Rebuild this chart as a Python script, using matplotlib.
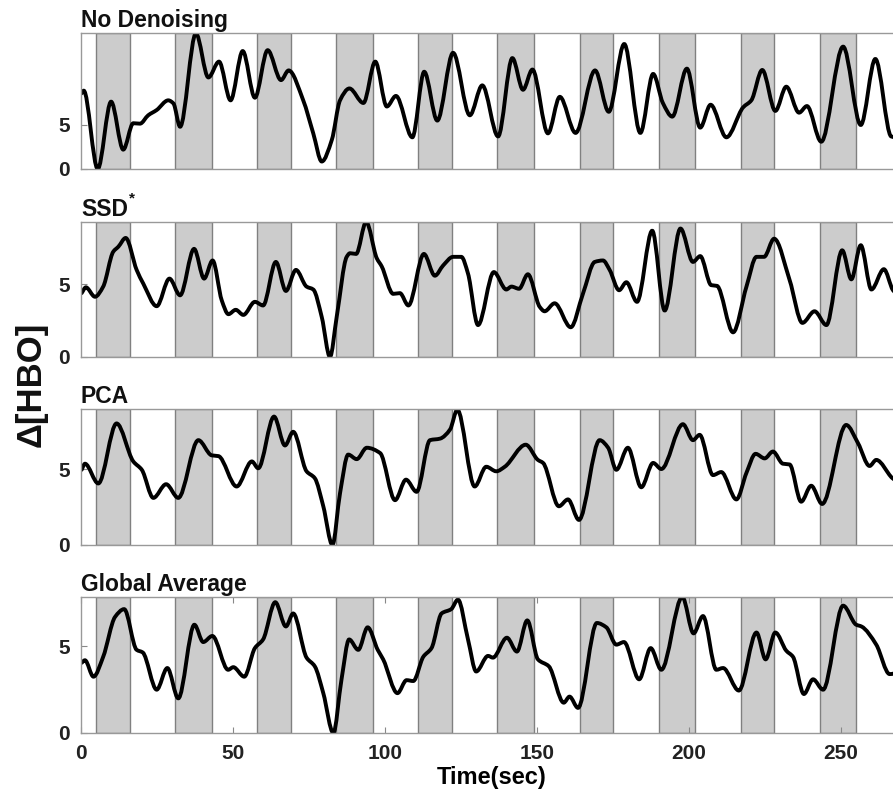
import numpy as np
import matplotlib
matplotlib.use("Agg")
import matplotlib.pyplot as plt
from matplotlib.path import Path
from matplotlib.patches import PathPatch

plt.rcParams.update({'font.family': ['Liberation Sans', 'DejaVu Sans'], 'font.weight': 'bold'})

# stimulation blocks (sec)
block_on = [5, 31, 58, 84, 111, 137, 164, 190, 217, 243]
block_off = [16, 43, 69, 96, 122, 149, 175, 202, 228, 255]

# No Denoising
t_nd = [0.2, 0.9, 5.5, 9.9, 13.9, 17.2, 19.4, 22.1, 24.9, 28.7, 30.4, 32.6, 37.8, 41.9, 45.4,
        49.2, 53.2, 57.2, 61.4, 65.8, 68.3, 73.1, 76.4, 79.2, 82.5, 85.2, 88.3, 92.9, 96.8,
        100.6, 103.6, 109.0, 112.9, 117.2, 122.4, 127.9, 132.0, 137.2, 141.9, 145.4, 148.5,
        153.6, 157.5, 162.7, 169.1, 173.6, 178.7, 184.0, 188.2, 191.4, 194.5, 199.3, 203.7,
        207.1, 212.3, 217.8, 220.5, 224.1, 228.4, 232.0, 236.2, 238.8, 243.5, 250.7, 256.5,
        261.3, 266.5, 269.0]
v_nd = [8.6, 8.9, 0.0, 7.65, 2.2, 5.2, 5.15, 6.1, 6.7, 7.8, 7.45, 4.8, 15.4, 10.4, 12.2,
        7.8, 13.4, 8.1, 13.5, 10.1, 11.2, 7.8, 4.05, 0.85, 3.3, 7.8, 9.15, 7.5, 12.2,
        7.1, 8.3, 3.6, 11.05, 5.5, 13.2, 6.1, 9.5, 3.7, 12.6, 9.0, 11.3,
        4.05, 8.2, 4.1, 11.2, 6.5, 14.2, 4.1, 10.8, 7.5, 5.95, 11.4, 4.7,
        7.3, 3.6, 7.0, 7.8, 11.25, 6.6, 9.35, 6.4, 7.15, 3.1, 13.9, 5.0,
        12.5, 3.7, 3.5]

# SSD*
t_ssd = [0.2, 1.6, 4.6, 7.3, 10.6, 12.3, 14.7, 18.3, 20.5, 24.9, 29.1, 32.6, 37.2, 40.5, 43.3,
         46.3, 48.5, 50.9, 53.4, 57.2, 59.9, 64.1, 67.4, 70.7, 74.2, 76.4, 79.2, 81.9, 84.1,
         87.4, 88.5, 90.5, 93.8, 97.3, 98.9, 102.7, 104.9, 107.7, 112.8, 116.4, 119.1, 122.4,
         125.1, 127.3, 130.6, 135.8, 139.9, 141.6, 144.1, 147.0, 150.9, 152.5, 155.8, 161.1,
         165.1, 169.0, 171.7, 173.9, 177.0, 179.4, 182.9, 187.9, 192.0, 197.2, 201.3, 203.7,
         207.3, 209.2, 214.5, 218.9, 222.2, 224.7, 228.0, 233.1, 237.3, 241.3, 245.2, 250.4,
         253.4, 256.5, 260.0, 264.1, 267.1, 269.0]
v_ssd = [4.4, 4.8, 4.15, 4.85, 7.25, 7.6, 8.2, 6.0, 5.05, 3.5, 5.4, 4.25, 7.45, 5.4, 6.65,
         3.9, 2.95, 3.25, 2.9, 3.8, 3.55, 6.55, 4.55, 6.0, 4.85, 4.65, 2.75, 0.0, 2.75,
         6.9, 7.15, 7.1, 9.3, 6.8, 6.25, 4.35, 4.4, 3.55, 7.1, 5.6, 6.3, 6.9,
         6.9, 5.75, 2.2, 5.85, 4.65, 4.85, 4.7, 5.7, 3.45, 3.15, 3.7, 2.05,
         4.35, 6.55, 6.65, 6.0, 4.6, 5.15, 3.8, 8.7, 3.2, 8.85, 6.55, 6.95,
         4.95, 4.9, 1.7, 4.85, 6.9, 6.9, 8.15, 5.3, 2.35, 3.15, 2.2, 7.35,
         5.35, 7.7, 4.65, 6.05, 4.6, 4.2]

# PCA
t_pca = [0.2, 1.3, 5.7, 11.7, 17.2, 20.0, 23.8, 28.0, 32.0, 38.6, 43.0, 45.2, 51.2, 56.2,
         58.3, 63.5, 67.1, 69.8, 74.2, 76.9, 79.7, 82.7, 85.2, 87.9, 90.7, 94.0, 98.4, 103.3,
         106.9, 110.4, 114.8, 118.1, 121.4, 123.8, 129.5, 133.3, 136.6, 139.4, 146.3, 150.3,
         152.0, 157.2, 160.2, 163.8, 170.6, 173.4, 176.1, 179.9, 184.3, 188.2, 190.9, 198.0,
         201.3, 203.5, 207.9, 210.6, 215.6, 218.9, 221.9, 224.9, 227.6, 230.9, 233.1, 236.9,
         240.2, 243.8, 251.7, 255.6, 259.4, 261.6, 266.9, 269.0]
v_pca = [4.95, 5.35, 4.05, 8.0, 5.5, 4.95, 3.1, 4.0, 3.1, 6.9, 5.9, 5.85, 3.85, 5.5,
         5.05, 8.45, 6.55, 7.45, 4.85, 4.4, 2.55, 0.0, 3.4, 5.95, 5.65, 6.4, 6.05, 2.95,
         4.3, 3.5, 6.9, 7.0, 7.6, 8.9, 3.85, 5.15, 4.85, 5.15, 6.6, 5.6,
         5.4, 2.55, 3.0, 1.65, 6.9, 6.4, 4.95, 6.4, 3.8, 5.4, 5.0, 7.95,
         6.9, 7.25, 4.6, 4.8, 3.0, 4.75, 6.0, 5.7, 6.15, 5.35, 5.3, 2.85,
         3.9, 2.7, 7.9, 6.7, 5.2, 5.6, 4.4, 4.1]

# Global Average
t_ga = [0.2, 1.3, 4.1, 7.3, 11.2, 14.2, 18.3, 20.3, 24.9, 28.4, 32.0, 37.3, 40.2, 43.2, 48.4,
        50.1, 53.7, 57.2, 59.9, 63.9, 67.4, 69.8, 74.2, 76.9, 79.7, 83.0, 85.7, 88.2, 91.2,
        94.3, 97.6, 99.4, 104.1, 107.1, 109.3, 112.6, 115.3, 118.6, 121.8, 124.0, 127.3,
        130.0, 133.9, 135.5, 140.1, 143.4, 146.8, 150.3, 153.9, 158.8, 160.7, 163.5, 169.7,
        172.8, 176.1, 178.6, 183.6, 187.4, 190.9, 197.8, 201.5, 204.6, 209.0, 211.2, 216.4,
        222.2, 225.2, 228.4, 232.0, 234.2, 237.8, 240.8, 244.1, 250.7, 255.0, 256.7, 261.6,
        266.0, 269.0]
v_ga = [4.05, 4.2, 3.25, 4.4, 6.7, 7.15, 4.8, 4.65, 2.5, 3.75, 2.0, 6.25, 5.25, 5.6, 3.65,
        3.8, 3.25, 4.9, 5.4, 7.55, 6.15, 6.9, 4.35, 3.85, 2.3, 0.0, 3.1, 5.4, 4.8,
        6.1, 4.8, 4.25, 2.3, 3.05, 3.0, 4.4, 4.9, 6.9, 7.15, 7.7, 5.4,
        3.55, 4.45, 4.35, 5.5, 4.7, 6.5, 4.25, 3.85, 1.75, 2.1, 1.45, 6.35,
        6.1, 5.1, 5.25, 3.1, 4.9, 3.65, 7.85, 5.75, 6.75, 3.65, 3.75, 2.45,
        5.8, 4.25, 5.8, 4.75, 4.4, 2.25, 3.1, 2.5, 7.35, 6.25, 6.15, 5.1,
        3.4, 3.5]

titles = ['No Denoising', 'SSD', 'PCA', 'Global Average']
series = [(t_nd, v_nd), (t_ssd, v_ssd), (t_pca, v_pca), (t_ga, v_ga)]
ytops = [15.45, 9.3, 8.95, 7.85]
xticks = [0, 50, 100, 150, 200, 250]


def smooth_path(x, y):
    # draw the sampled trace as cubic Bezier segments through the points
    # (monotone tangents so the curve never overshoots the samples)
    x = np.asarray(x, float); y = np.asarray(y, float)
    h = np.diff(x); d = np.diff(y) / h
    m = np.zeros_like(y)
    for k in range(1, len(y) - 1):
        if d[k - 1] * d[k] > 0:
            w1 = 2 * h[k] + h[k - 1]; w2 = h[k] + 2 * h[k - 1]
            m[k] = (w1 + w2) / (w1 / d[k - 1] + w2 / d[k])
    m[0] = d[0]; m[-1] = d[-1]
    verts = [(x[0], y[0])]; codes = [Path.MOVETO]
    for k in range(len(x) - 1):
        verts += [(x[k] + h[k] / 3, y[k] + m[k] * h[k] / 3),
                  (x[k + 1] - h[k] / 3, y[k + 1] - m[k + 1] * h[k] / 3),
                  (x[k + 1], y[k + 1])]
        codes += [Path.CURVE4] * 3
    return Path(verts, codes)


W, H = 893, 800
fig = plt.figure(figsize=(W / 100, H / 100), dpi=100)
fig.patch.set_facecolor('white')

# panel top/bottom in pixels
panels = [(33, 169), (222, 357), (409, 545), (597, 733)]
left_px = 81
xmax = 270
right_px = left_px + xmax * 3.04

for i, ((top, bot), (tt, vv), title, ytop) in enumerate(zip(panels, series, titles, ytops)):
    ax = fig.add_axes([left_px / W, 1 - bot / H, (right_px - left_px) / W, (bot - top) / H])
    for a, b in zip(block_on, block_off):
        ax.axvspan(a, b, facecolor='#cccccc', edgecolor='#808080', lw=1.0, zorder=1)
    ax.add_patch(PathPatch(smooth_path(tt, vv), fill=False, edgecolor='black', lw=2.8,
                           joinstyle='round', capstyle='round', zorder=3))
    ax.set_xlim(0, xmax)
    ax.set_ylim(0, ytop)
    ax.set_yticks([0, 5])
    ax.tick_params(axis='y', direction='in', length=4, color='#888888', labelsize=15,
                   labelcolor='#222222', pad=8)
    for s in ax.spines.values():
        s.set_color('#999999')
        s.set_linewidth(1.0)
        s.set_zorder(4)
    ax.spines['right'].set_visible(False)
    ax.set_title(title, loc='left', fontsize=16.5, fontweight='bold', pad=4, color='#111111')
    if i == 1:
        # superscript asterisk after "SSD"
        ax.text(48 / (right_px - left_px), 1.175, '*', transform=ax.transAxes,
                fontsize=11, fontweight='bold', ha='left', va='center', color='#111111')
    if i == 3:
        ax.set_xticks(xticks)
        ax.tick_params(axis='x', direction='in', length=4, top=True, color='#888888',
                       labelsize=15, labelcolor='#222222', pad=8)
        ax.set_xlabel('Time(sec)', fontsize=17, fontweight='bold', labelpad=2)
    else:
        ax.set_xticks([])

fig.text(0.035, 0.52, '\u0394[HBO]', rotation=90, ha='center', va='center',
         fontsize=25, fontweight='bold', color='#111111')

fig.savefig('out.png', dpi=100, facecolor='white')
